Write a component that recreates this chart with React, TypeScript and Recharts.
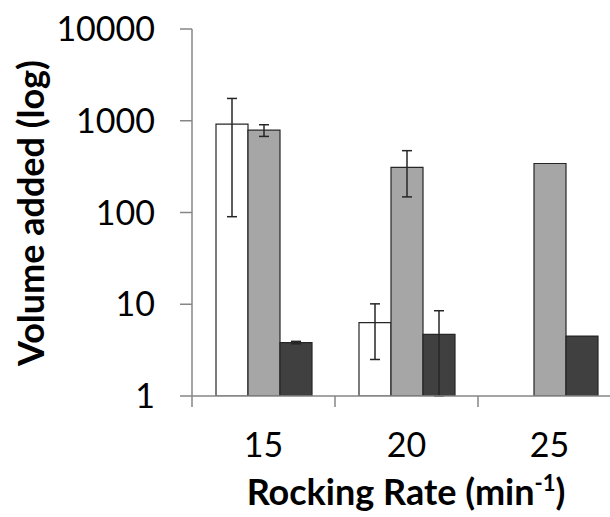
import React from 'react';
import { BarChart, Bar, XAxis, YAxis, ErrorBar } from 'recharts';

// rocking rate categories (min^-1)
const categories = ['15', '20', '25'];

// volume added per condition, three series
const whiteValues: (number | null)[] = [920, 6.3, null];
const grayValues: (number | null)[] = [790, 310, 342];
const darkValues: (number | null)[] = [3.82, 4.7, 4.5];

// error bars: single number = symmetric, pair = [down, up]
const whiteErrors: (number | number[] | null)[] = [830, 3.8, null];
const grayErrors: (number | number[] | null)[] = [115, 162, null];
const darkErrors: (number | number[] | null)[] = [0.12, [3.7, 3.8], null];

const yTicks = [1, 10, 100, 1000, 10000];

const data = categories.map((rate, i) => ({
  rate,
  white: whiteValues[i],
  gray: grayValues[i],
  dark: darkValues[i],
  whiteErr: whiteErrors[i],
  grayErr: grayErrors[i],
  darkErr: darkErrors[i],
}));

const CHART_W = 630;
const CHART_H = 517;
const MARGIN = { top: 29, right: 9, bottom: 11, left: 0 };
const Y_AXIS_W = 192;
const PLOT_W = CHART_W - MARGIN.left - MARGIN.right - Y_AXIS_W;
const BAND = PLOT_W / categories.length;

const AXIS = '#868686';
const EDGE = '#262626';
const FONT = 'Lato, "Open Sans", sans-serif';

const XTick = (props: any) => {
  const { x, y, payload, index } = props;
  const half = BAND / 2;
  return (
    <g>
      <line x1={x - half} y1={y} x2={x - half} y2={y + 11} stroke={AXIS} strokeWidth={1.5} />
      {index === categories.length - 1 && (
        <line x1={x + half} y1={y} x2={x + half} y2={y + 11} stroke={AXIS} strokeWidth={1.5} />
      )}
      <text x={x} y={y + 61} textAnchor="middle" fontSize={34} fill="#000" fontFamily={FONT}>
        {payload.value}
      </text>
    </g>
  );
};

const App: React.FC = () => {
  return (
    <div
      style={{
        position: 'absolute',
        left: 0,
        top: 0,
        width: 610,
        height: 517,
        overflow: 'hidden',
        background: '#fff',
      }}
    >
      <BarChart width={CHART_W} height={CHART_H} data={data} margin={MARGIN} barSize={32} barGap={0}>
        <XAxis
          dataKey="rate"
          height={110}
          axisLine={{ stroke: AXIS, strokeWidth: 1.5 }}
          tickLine={false}
          tickSize={0}
          tickMargin={0}
          interval={0}
          tick={<XTick />}
          label={{
            content: () => (
              <text x={406} y={505} textAnchor="middle" fontSize={36} fontWeight="bold" fill="#000" fontFamily={FONT}>
                Rocking Rate (min
                <tspan dy={-14} fontSize={22}>
                  -1
                </tspan>
                <tspan dy={14}>)</tspan>
              </text>
            ),
          }}
        />
        <YAxis
          width={Y_AXIS_W}
          scale="log"
          domain={[1, 10000]}
          ticks={yTicks}
          interval={0}
          allowDataOverflow
          axisLine={{ stroke: AXIS, strokeWidth: 1.5 }}
          tickLine={{ stroke: AXIS, strokeWidth: 1.5 }}
          tickSize={12}
          tickMargin={25}
          tick={{ fontSize: 34, fill: '#000', fontFamily: FONT }}
          label={{
            content: () => (
              <text
                transform="translate(30,213) rotate(-90)"
                textAnchor="middle"
                dominantBaseline="central"
                fontSize={36}
                fontWeight="bold"
                fill="#000"
                fontFamily={FONT}
              >
                Volume added (log)
              </text>
            ),
          }}
        />
        <Bar dataKey="white" fill="#ffffff" stroke={EDGE} strokeWidth={1.2} isAnimationActive={false}>
          <ErrorBar dataKey="whiteErr" width={5} stroke={EDGE} strokeWidth={1.5} />
        </Bar>
        <Bar dataKey="gray" fill="#a6a6a6" stroke={EDGE} strokeWidth={1.2} isAnimationActive={false}>
          <ErrorBar dataKey="grayErr" width={5} stroke={EDGE} strokeWidth={1.5} />
        </Bar>
        <Bar dataKey="dark" fill="#404040" stroke={EDGE} strokeWidth={1.2} isAnimationActive={false}>
          <ErrorBar dataKey="darkErr" width={5} stroke={EDGE} strokeWidth={1.5} />
        </Bar>
      </BarChart>
    </div>
  );
};

export default App;
